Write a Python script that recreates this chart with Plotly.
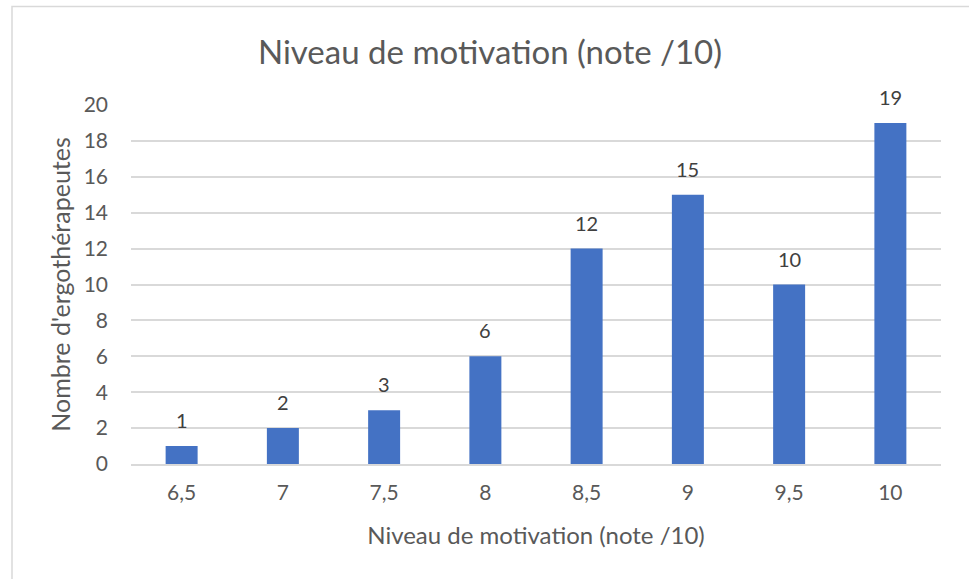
import plotly.graph_objects as go

categories = ["6,5", "7", "7,5", "8", "8,5", "9", "9,5", "10"]
values = [1, 2, 3, 6, 12, 15, 10, 19]
y_ticks = [0, 2, 4, 6, 8, 10, 12, 14, 16, 18, 20]

font_family = "Lato, Open Sans, sans-serif"
txt = "#595959"

positions = list(range(len(categories)))

fig = go.Figure(go.Bar(
    x=positions, y=values,
    marker=dict(color="#4472C4", line=dict(width=0)),
    hoverinfo="y",
))

annotations = [
    dict(x=i, y=v, xref="x", yref="y", text=str(v), showarrow=False,
         yanchor="middle", yshift=26,
         font=dict(size=20, color="#404040", family=font_family))
    for i, v in zip(positions, values)
]

fig.update_layout(
    width=969, height=579,
    margin=dict(l=131, r=28, t=105, b=115),
    paper_bgcolor="white", plot_bgcolor="white",
    bargap=0.684,
    showlegend=False,
    title=dict(text="Niveau de motivation (note /10)", x=490 / 969,
               xref="container", xanchor="center",
               y=1 - 52 / 579, yanchor="middle",
               font=dict(size=33, color=txt, family=font_family)),
    font=dict(family=font_family, color=txt),
    annotations=annotations,
    shapes=[dict(type="rect", xref="paper", yref="paper",
                 x0=-0.1469, x1=1.06, y0=-0.36, y1=1.2744,
                 line=dict(color="#d9d9d9", width=1.5), layer="below")],
)
fig.update_xaxes(
    range=[-0.5, len(categories) - 0.5], tickvals=positions, ticktext=categories,
    showgrid=False, zeroline=False, showline=True, linecolor="#d9d9d9", linewidth=1.5,
    ticks="", tickfont=dict(size=21, color=txt), ticklabelstandoff=9,
    title=dict(text="Niveau de motivation (note /10)", font=dict(size=24, color=txt), standoff=24),
)
fig.update_yaxes(
    range=[0, 20], tickvals=y_ticks, showgrid=True, gridcolor="#d9d9d9", gridwidth=1.5,
    zeroline=False, showline=False, ticks="", ticklabelstandoff=22,
    tickfont=dict(size=21, color=txt),
    title=dict(text="Nombre d'ergothérapeutes", font=dict(size=25, color=txt), standoff=5),
)

fig.write_html("out.html", config={"displayModeBar": False},
               post_script="document.body.style.margin='0';")
